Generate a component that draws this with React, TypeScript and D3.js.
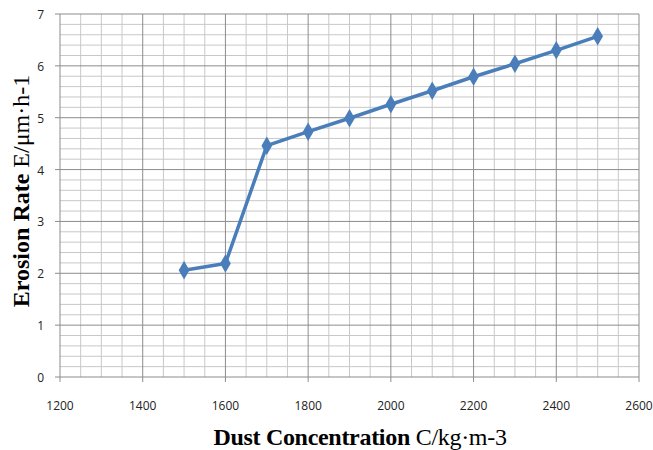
import { useEffect, useRef } from "react";
import * as d3 from "d3";

const concentration = [1500, 1600, 1700, 1800, 1900, 2000, 2100, 2200, 2300, 2400, 2500];
const erosionRate = [2.06, 2.19, 4.46, 4.73, 4.99, 5.26, 5.52, 5.79, 6.04, 6.3, 6.57];
const xTicks = [1200, 1400, 1600, 1800, 2000, 2200, 2400, 2600];
const yTicks = [0, 1, 2, 3, 4, 5, 6, 7];

const W = 653;
const H = 450;

export default function App() {
  const ref = useRef<SVGSVGElement>(null);

  useEffect(() => {
    const svg = d3.select(ref.current);
    svg.selectAll("*").remove();

    const x = d3.scaleLinear().domain([1200, 2600]).range([60, 639]);
    const y = d3.scaleLinear().domain([0, 7]).range([377, 14]);

    const g = svg.append("g");

    // minor grid
    const minorX = d3.range(1200, 2601, 50).filter((v) => v % 200 !== 0);
    const minorY = d3.range(0, 7.001, 0.2).filter((v) => Math.abs(v - Math.round(v)) > 0.01);
    g.selectAll(".mx")
      .data(minorX)
      .join("line")
      .attr("x1", (d) => x(d))
      .attr("x2", (d) => x(d))
      .attr("y1", y(0))
      .attr("y2", y(7))
      .attr("stroke", "#c8c8c8")
      .attr("stroke-width", 1);
    g.selectAll(".my")
      .data(minorY)
      .join("line")
      .attr("x1", x(1200))
      .attr("x2", x(2600))
      .attr("y1", (d) => y(d))
      .attr("y2", (d) => y(d))
      .attr("stroke", "#c8c8c8")
      .attr("stroke-width", 1);

    // major grid
    g.selectAll(".MX")
      .data(xTicks)
      .join("line")
      .attr("x1", (d) => x(d))
      .attr("x2", (d) => x(d))
      .attr("y1", y(0) + 5)
      .attr("y2", y(7))
      .attr("stroke", "#8c8c8c")
      .attr("stroke-width", 1);
    g.selectAll(".MY")
      .data(yTicks)
      .join("line")
      .attr("x1", x(1200) - 5)
      .attr("x2", x(2600))
      .attr("y1", (d) => y(d))
      .attr("y2", (d) => y(d))
      .attr("stroke", "#8c8c8c")
      .attr("stroke-width", 1);

    // tick labels
    g.selectAll(".xl")
      .data(xTicks)
      .join("text")
      .attr("x", (d) => x(d))
      .attr("y", 410)
      .attr("text-anchor", "middle")
      .attr("font-family", "Open Sans, sans-serif")
      .attr("font-size", 12)
      .attr("fill", "#222")
      .text((d) => d);
    g.selectAll(".yl")
      .data(yTicks)
      .join("text")
      .attr("x", 44)
      .attr("y", (d) => y(d) + 5)
      .attr("text-anchor", "end")
      .attr("font-family", "Open Sans, sans-serif")
      .attr("font-size", 12)
      .attr("fill", "#222")
      .text((d) => d);

    // series
    const pts = concentration.map((c, i) => [c, erosionRate[i]] as [number, number]);
    const lineGen = d3
      .line<[number, number]>()
      .x((d) => x(d[0]))
      .y((d) => y(d[1]));
    g.append("path")
      .datum(pts)
      .attr("d", lineGen)
      .attr("fill", "none")
      .attr("stroke", "#4a7ebb")
      .attr("stroke-width", 3.5)
      .attr("stroke-linejoin", "round");
    const diamond = d3.symbol().type(d3.symbolDiamond).size(100);
    g.selectAll(".pt")
      .data(pts)
      .join("path")
      .attr("d", diamond)
      .attr("transform", (d) => `translate(${x(d[0])},${y(d[1])})`)
      .attr("fill", "#4a7ebb");

    // axis titles
    const xt = svg
      .append("text")
      .attr("x", 360)
      .attr("y", 445)
      .attr("text-anchor", "middle")
      .attr("font-family", "Liberation Serif, Times New Roman, serif")
      .attr("font-size", 24)
      .attr("letter-spacing", -0.3)
      .attr("fill", "#000");
    xt.append("tspan").attr("font-weight", "bold").text("Dust Concentration ");
    xt.append("tspan").text("C/kg·m-3");

    const yt = svg
      .append("text")
      .attr("transform", `translate(29,191) rotate(-90)`)
      .attr("text-anchor", "middle")
      .attr("font-family", "Liberation Serif, Times New Roman, serif")
      .attr("font-size", 24)
      .attr("fill", "#000");
    yt.append("tspan").attr("font-weight", "bold").text("Erosion Rate ");
    yt.append("tspan").text("E/μm·h-1");
  }, []);

  return (
    <svg
      ref={ref}
      width={W}
      height={H}
      style={{ position: "absolute", left: 0, top: 0, background: "#fff" }}
    />
  );
}
